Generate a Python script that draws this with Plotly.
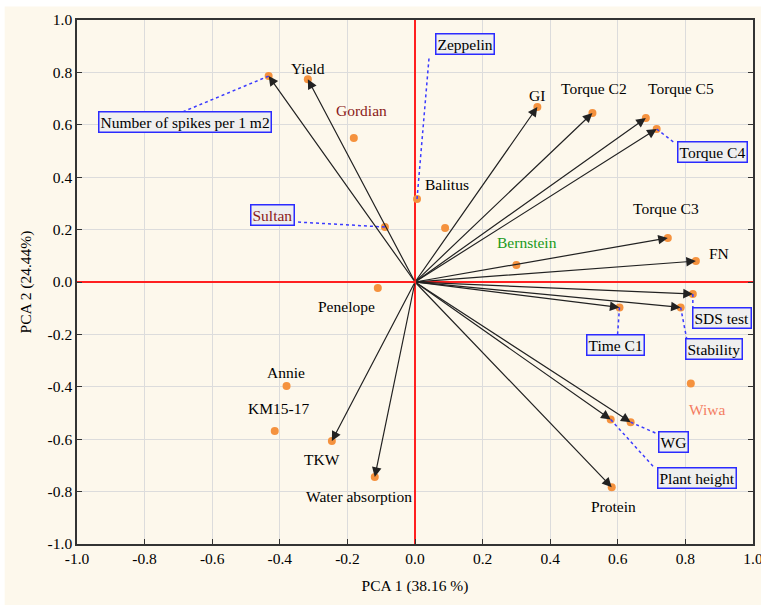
import plotly.graph_objects as go

# Variable loadings (arrows)
var_names = ["Number of spikes per 1 m2", "Yield", "GI", "Torque C2", "Torque C5", "Torque C4",
             "Torque C3", "FN", "SDS test", "Stability", "Time C1", "WG", "Plant height",
             "Protein", "TKW", "Water absorption"]
var_x = [-0.433, -0.317, 0.362, 0.525, 0.683, 0.715, 0.748, 0.831, 0.822, 0.786, 0.605, 0.638,
         0.579, 0.582, -0.246, -0.119]
var_y = [0.786, 0.774, 0.668, 0.645, 0.626, 0.584, 0.168, 0.080, -0.046, -0.097, -0.097, -0.535,
         -0.525, -0.783, -0.607, -0.744]

# Cultivar scores (points)
cult_names = ["Gordian", "Zeppelin", "Balitus", "Sultan", "Bernstein", "Penelope", "Annie",
              "KM15-17", "Wiwa"]
cult_x = [-0.181, 0.006, 0.089, -0.089, 0.300, -0.110, -0.380, -0.415, 0.816]
cult_y = [0.550, 0.317, 0.206, 0.210, 0.065, -0.023, -0.397, -0.569, -0.387]

# Label placement: (label x, label y, boxed, leader-end x, leader-end y, colour)
var_labels = {
    "Number of spikes per 1 m2": (-0.68, 0.61, True, -0.688, 0.649, "black"),
    "Yield": (-0.318, 0.813, False, None, None, "black"),
    "GI": (0.362, 0.71, False, None, None, "black"),
    "Torque C2": (0.531, 0.737, False, None, None, "black"),
    "Torque C5": (0.786, 0.74, False, None, None, "black"),
    "Torque C4": (0.881, 0.496, True, 0.769, 0.53, "black"),
    "Torque C3": (0.742, 0.279, False, None, None, "black"),
    "FN": (0.899, 0.107, False, None, None, "black"),
    "SDS test": (0.908, -0.137, True, 0.822, -0.107, "black"),
    "Stability": (0.884, -0.256, True, 0.804, -0.218, "black"),
    "Time C1": (0.593, -0.24, True, 0.599, -0.206, "black"),
    "WG": (0.766, -0.611, True, 0.718, -0.58, "black"),
    "Plant height": (0.834, -0.748, True, 0.709, -0.71, "black"),
    "Protein": (0.588, -0.855, False, None, None, "black"),
    "TKW": (-0.276, -0.679, False, None, None, "black"),
    "Water absorption": (-0.166, -0.817, False, None, None, "black"),
}
cult_labels = {
    "Gordian": (-0.157, 0.653, False, None, None, "#8b1a1a"),
    "Zeppelin": (0.148, 0.908, True, 0.042, 0.863, "black"),
    "Balitus": (0.095, 0.374, False, None, None, "black"),
    "Sultan": (-0.421, 0.256, True, -0.35, 0.229, "#8b1a1a"),
    "Bernstein": (0.332, 0.149, False, None, None, "#1a9a1a"),
    "Penelope": (-0.202, -0.092, False, None, None, "black"),
    "Annie": (-0.383, -0.344, False, None, None, "black"),
    "KM15-17": (-0.404, -0.481, False, None, None, "black"),
    "Wiwa": (0.864, -0.485, False, None, None, "#f47d62"),
}

FONT = "Liberation Serif"
FS = 15.5
ORANGE = "#f5923e"

fig = go.Figure()
fig.add_trace(go.Scatter(x=var_x + cult_x, y=var_y + cult_y, mode="markers",
                         marker=dict(color=ORANGE, size=8), hoverinfo="skip", showlegend=False))

annotations = []
shapes = []

# cream background panel
shapes.append(dict(type="rect", xref="paper", yref="paper", x0=-0.107, x1=1.02, y0=-0.12, y1=1.026,
                   fillcolor="#fdf8ec", line=dict(width=0), layer="below"))

for n, x, y in zip(var_names, var_x, var_y):
    annotations.append(dict(x=x, y=y, ax=0, ay=0, xref="x", yref="y", axref="x", ayref="y",
                            text="", showarrow=True, arrowhead=2, arrowsize=1.6, arrowwidth=1.2,
                            arrowcolor="#222222", standoff=0))


def add_labels(names, xs, ys, table):
    for n, px, py in zip(names, xs, ys):
        lx, ly, boxed, ex, ey, col = table[n]
        if boxed:
            shapes.append(dict(type="line", xref="x", yref="y", x0=px, y0=py, x1=ex, y1=ey,
                               line=dict(color="#3b3bff", width=1.5, dash="dot")))
        a = dict(x=lx, y=ly, xref="x", yref="y", text=n, showarrow=False,
                 font=dict(family=FONT, size=FS, color=col))
        if boxed:
            a.update(bgcolor="#efefef", bordercolor="#2b2bff", borderwidth=1.5, borderpad=1)
        annotations.append(a)


add_labels(var_names, var_x, var_y, var_labels)
add_labels(cult_names, cult_x, cult_y, cult_labels)

ticks = [round(-1 + 0.2 * i, 1) for i in range(11)]
ticktext = [f"{t:.1f}" for t in ticks]

axis_common = dict(range=[-1, 1], tickvals=ticks, ticktext=ticktext, showgrid=True,
                   gridcolor="#dcdcdc", gridwidth=1, zeroline=True, zerolinecolor="#ff2020",
                   zerolinewidth=1.5, showline=True, linecolor="#333333", linewidth=1.5,
                   ticks="inside", ticklen=5, tickcolor="#333333", ticklabeloverflow="allow",
                   automargin=False,
                   tickfont=dict(family=FONT, size=FS, color="black"))

fig.update_layout(
    width=761, height=605,
    margin=dict(l=77, r=8, t=20, b=61),
    paper_bgcolor="white", plot_bgcolor="white",
    xaxis=dict(**axis_common, mirror=True,
               title=dict(text="PCA 1 (38.16 %)", font=dict(family=FONT, size=FS, color="black"),
                          standoff=14)),
    yaxis=dict(**axis_common, mirror="ticks",
               title=dict(text="PCA 2 (24.44%)", font=dict(family=FONT, size=FS, color="black"),
                          standoff=12)),
    annotations=annotations, shapes=shapes,
    font=dict(family=FONT),
)

fig.write_html("out.html")
